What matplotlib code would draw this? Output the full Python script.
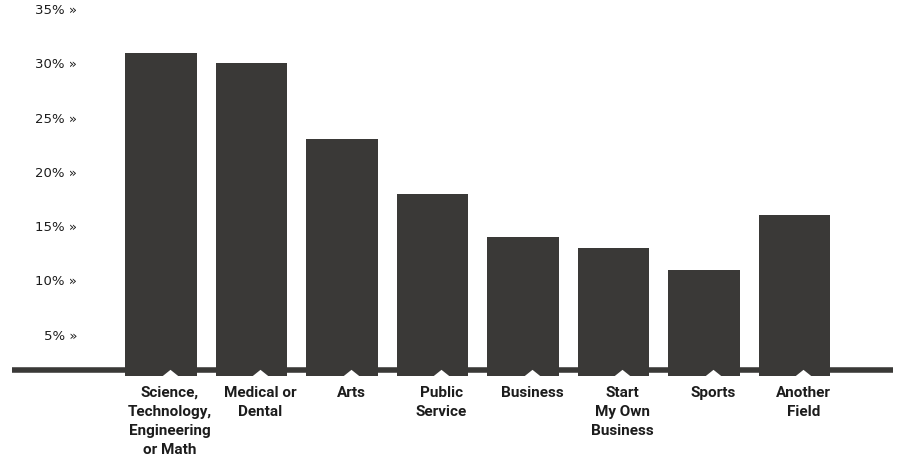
import matplotlib
matplotlib.use("Agg")
import matplotlib.pyplot as plt
from matplotlib.transforms import blended_transform_factory

# data (percent of respondents)
categories = ["Science,\nTechnology,\nEngineering\nor Math", "Medical or\nDental", "Arts",
              "Public\nService", "Business", "Start\nMy Own\nBusiness", "Sports", "Another\nField"]
values = [31, 30, 23, 18, 14, 13, 11, 16]
yticks = [5, 10, 15, 20, 25, 30, 35]
ytick_labels = ["%d%% \u00bb" % t for t in yticks]

bar_color = "#3a3937"
text_color = "#1c1c1c"

fig = plt.figure(figsize=(8.98, 4.68), dpi=100)
ax = fig.add_axes([12 / 898, 1 - 376 / 468, 881 / 898, 375.5 / 468])

x = list(range(len(values)))
ax.bar(x, values, width=0.79, color=bar_color, zorder=2)

# thick baseline running across the whole page
ax.axhline(1.75, color=bar_color, lw=4.0, zorder=3)

ax.set_xlim(-1.646, 8.09)
ax.set_ylim(1.2, 35.8)

# little white notches under each bar where the category label sits
notch = [(-1, 0), (0, 0.8), (1, 0)]
ax.plot([i + 0.1 for i in x], [1.2] * len(x), linestyle="none", marker=notch,
        markersize=12, color="white", markeredgewidth=0, zorder=4, clip_on=False)

# category labels
trans = blended_transform_factory(ax.transData, ax.transAxes)
for i, lab in zip(x, categories):
    ax.annotate(lab, xy=(i + 0.1, 0), xycoords=trans, xytext=(0, -7),
                textcoords="offset points", ha="center", va="top",
                multialignment="center", fontsize=11, fontweight="bold",
                family=["Roboto", "DejaVu Sans"], color=text_color, linespacing=1.45)

# y tick labels sit inside the page, to the left of the first bar
ax.set_yticks(yticks)
ax.set_yticklabels(ytick_labels, family=["DejaVu Sans"], fontsize=9.5, color=text_color)
ax.tick_params(axis="y", length=0, pad=-47)
ax.tick_params(axis="x", length=0, labelbottom=False)
for s in ax.spines.values():
    s.set_visible(False)

fig.savefig("out.png", dpi=100)
